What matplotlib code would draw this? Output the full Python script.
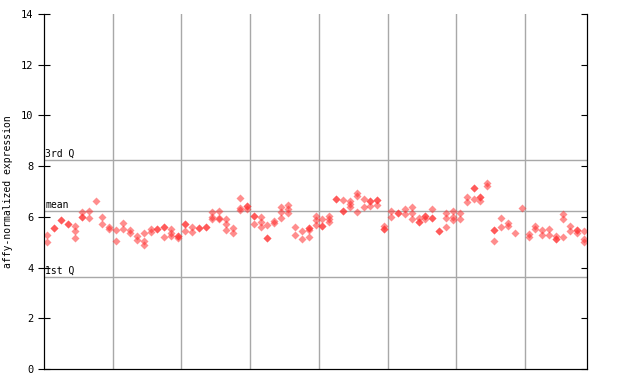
import numpy as np
import matplotlib
matplotlib.use("Agg")
from matplotlib import pyplot as plt

# expression values per sample (replicates)
samples = [
    [5.27, 4.99], [5.57, 5.57], [5.88, 5.88], [5.72, 5.72], [5.64, 5.45, 5.17],
    [6.18, 6.01, 6.01], [6.24, 5.94], [6.62], [5.98, 5.71], [5.61, 5.51],
    [5.48, 5.03], [5.74, 5.52], [5.48, 5.35], [5.26, 5.10], [5.35, 5.05, 4.89],
    [5.51, 5.40], [5.52, 5.52], [5.61, 5.61, 5.19], [5.51, 5.35, 5.24], [5.26, 5.26, 5.15],
    [5.73, 5.73, 5.43], [5.59, 5.39], [5.56, 5.56], [5.59, 5.59], [6.19, 6.01, 5.90],
    [6.23, 5.97, 5.90], [5.90, 5.71, 5.48], [5.55, 5.35], [6.73, 6.36, 6.28], [6.43, 6.43, 6.30],
    [6.05, 6.05, 5.71], [5.98, 5.78, 5.61], [5.67, 5.18, 5.18], [5.85, 5.74], [6.37, 6.20, 5.94],
    [6.47, 6.30, 6.14], [5.59, 5.27], [5.43, 5.13], [5.55, 5.55, 5.48, 5.22], [6.05, 5.88, 5.68],
    [5.90, 5.64, 5.64], [6.03, 5.90, 5.78], [6.70, 6.70], [6.65, 6.24, 6.24], [6.62, 6.51, 6.40],
    [6.93, 6.82, 6.18], [6.69, 6.37], [6.64, 6.64, 6.44], [6.68, 6.68, 6.45], [5.64, 5.52, 5.52],
    [6.24, 5.98], [6.16, 6.16], [6.30, 6.11], [6.37, 6.14, 5.90], [5.94, 5.81, 5.81],
    [6.03, 6.03, 5.90], [6.30, 5.97, 5.97], [5.45, 5.45], [6.14, 5.94, 5.59], [6.23, 6.01, 5.86],
    [6.14, 5.90], [6.77, 6.58], [7.15, 7.15, 6.69], [6.79, 6.79, 6.64], [7.32, 7.23],
    [5.48, 5.48, 5.03], [5.94, 5.59], [5.74, 5.64], [5.35], [6.34],
    [5.32, 5.22], [5.65, 5.51], [5.48, 5.30], [5.51, 5.27], [5.24, 5.11, 5.11],
    [6.11, 5.90, 5.19], [5.65, 5.44], [5.48, 5.48, 5.37], [5.44, 5.11, 5.02],
]
q1, mean, q3 = 3.63, 6.23, 8.24
group_lines = [10, 20, 30, 40, 50, 60, 70]

plt.rcParams["font.family"] = "DejaVu Sans Mono"

fig = plt.figure(figsize=(6.4, 3.84), dpi=100)
ax = fig.add_axes([44 / 640, 1 - 369 / 384, (587 - 44) / 640, (369 - 14) / 384])

n = len(samples)
xs = np.concatenate([[i + 0.5] * len(v) for i, v in enumerate(samples)])
ys = np.concatenate(samples)
ax.plot(xs, ys, linestyle="none", marker="D", markersize=3.8,
        markerfacecolor="#ff3030", markeredgecolor="none", alpha=0.55, zorder=3)

for gx in group_lines:
    ax.axvline(gx, color="#a8a8a8", linewidth=1, zorder=1)
for yv, label in [(q3, "3rd Q"), (mean, "mean"), (q1, "1st Q")]:
    ax.axhline(yv, color="#a8a8a8", linewidth=1, zorder=1)
    ax.text(0.15, yv + 0.05, label, fontsize=7, va="bottom", ha="left", zorder=2)

ax.set_xlim(0, n)
ax.set_ylim(0, 14)
ax.set_yticks(range(0, 15, 2))
ax.set_xticks([])
ax.spines["top"].set_visible(False)
ax.tick_params(axis="y", direction="inout", length=8, labelsize=7.5)
ax.set_ylabel("affy-normalized expression", fontsize=7, labelpad=6)

# right side ticks point inward only
ax_r = ax.twinx()
ax_r.set_ylim(ax.get_ylim())
ax_r.set_yticks(range(0, 15, 2))
ax_r.tick_params(axis="y", direction="in", length=4, labelright=False)
ax_r.spines["top"].set_visible(False)

fig.savefig("out.png", dpi=100)
